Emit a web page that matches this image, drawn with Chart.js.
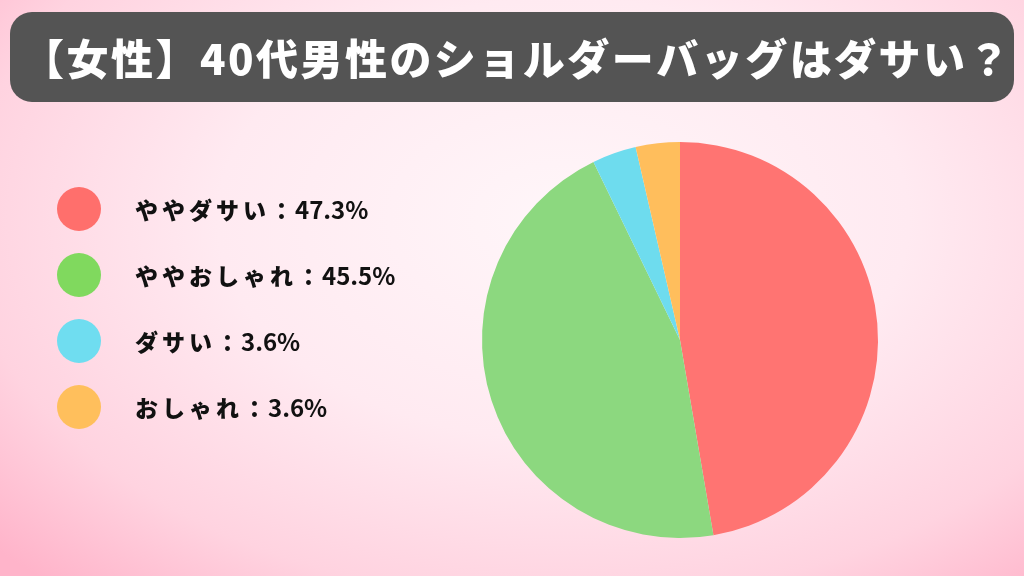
<!DOCTYPE html>
<html lang="ja">
<head>
<meta charset="utf-8">
<title>【女性】40代男性のショルダーバッグはダサい？</title>
<script src="https://cdn.jsdelivr.net/npm/chart.js@4.4.1/dist/chart.umd.min.js"></script>
<style>
  html, body {
    margin: 0;
    padding: 0;
  }
  body {
    width: 1024px;
    height: 576px;
    overflow: hidden;
    background:
      radial-gradient(ellipse 75% 85% at 55% 38%, #fff6f9 0%, #ffeaf1 45%, #ffd3e0 78%, #ffb4ca 100%);
  }
  #wrap {
    position: relative;
    width: 1024px;
    height: 576px;
  }
</style>
</head>
<body>
<div id="wrap">
  <canvas id="pie-chart" width="1024" height="576"></canvas>
</div>
<script>
// データ
const titleText = '【女性】40代男性のショルダーバッグはダサい？';
const categories = ['ややダサい', 'ややおしゃれ', 'ダサい', 'おしゃれ'];
const values = [47.3, 45.5, 3.6, 3.6];
const sliceColors = ['#ff7472', '#8cd87f', '#6edcee', '#ffbe5c'];
const dotColors = ['#ff6f6c', '#80d95e', '#6fddf0', '#ffbf5c'];

const FONT = '"Noto Sans CJK JP", "Noto Sans", sans-serif';

/**
 * タイトルバーと凡例を描くプラグイン
 */
const decorPlugin = {
    id: 'decor',
    afterDraw(chart) {
        const ctx = chart.ctx;
        ctx.save();

        // タイトルバー
        ctx.fillStyle = '#545454';
        ctx.beginPath();
        ctx.roundRect(10, 12, 1004, 90, 22);
        ctx.fill();

        // タイトル文字（バー幅に合わせて字間を調整）
        ctx.fillStyle = '#ffffff';
        ctx.font = `900 42px ${FONT}`;
        ctx.textBaseline = 'middle';
        ctx.textAlign = 'left';
        ctx.letterSpacing = '0px';
        const w = ctx.measureText(titleText).width;
        const chars = [...titleText].length;
        const spacing = Math.max(0, (990 - w) / chars);
        ctx.letterSpacing = spacing + 'px';
        ctx.fillText(titleText, 22, 59);

        // 凡例
        categories.forEach((label, i) => {
            const cy = 209 + i * 66;
            ctx.fillStyle = dotColors[i];
            ctx.beginPath();
            ctx.arc(79, cy, 22, 0, Math.PI * 2);
            ctx.fill();

            ctx.fillStyle = '#111111';
            ctx.font = `900 23px ${FONT}`;
            ctx.letterSpacing = '4px';
            const head = label + '：';
            ctx.fillText(head, 135, cy + 1);
            const hw = ctx.measureText(head).width;
            ctx.letterSpacing = '0px';
            ctx.font = `700 24px ${FONT}`;
            ctx.fillText(values[i].toFixed(1) + '%', 135 + hw - 2, cy + 1);
        });

        ctx.restore();
    }
};

new Chart(document.getElementById('pie-chart').getContext('2d'), {
    type: 'pie',
    data: {
        labels: categories,
        datasets: [{
            data: values,
            backgroundColor: sliceColors,
            borderWidth: 0
        }]
    },
    options: {
        responsive: false,
        animation: false,
        layout: {
            padding: { left: 482, right: 146, top: 142, bottom: 38 }
        },
        plugins: {
            legend: { display: false },
            tooltip: { enabled: false },
            title: { display: false }
        }
    },
    plugins: [decorPlugin]
});
</script>
</body>
</html>
